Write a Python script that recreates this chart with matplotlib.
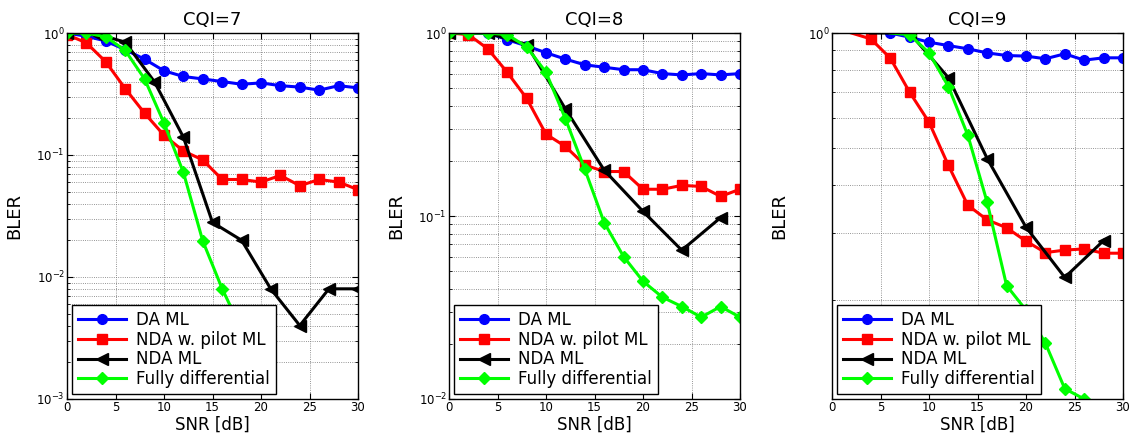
import numpy as np
import matplotlib
matplotlib.use('Agg')
import matplotlib.pyplot as plt
from matplotlib.ticker import LogLocator, NullFormatter

### data (BLER vs SNR in dB)
labels = ['DA ML', 'NDA w. pilot ML', 'NDA ML', 'Fully differential']
titles = ['CQI=7', 'CQI=8', 'CQI=9']

# CQI=7
snr7_2 = np.arange(0, 31, 2)
snr7_3 = np.arange(0, 31, 3)
snr7_fd = np.arange(0, 21, 2)
da7 = [1.0, 0.94, 0.86, 0.73, 0.61, 0.49, 0.44, 0.42, 0.40, 0.38, 0.39, 0.37, 0.36, 0.34, 0.37, 0.355]
pilot7 = [0.97, 0.83, 0.58, 0.35, 0.22, 0.145, 0.108, 0.091, 0.063, 0.063, 0.06, 0.068, 0.056, 0.063, 0.06, 0.052]
nda7 = [1.0, 0.99, 0.84, 0.40, 0.14, 0.028, 0.020, 0.008, 0.004, 0.008, 0.008]
fd7 = [1.0, 1.0, 0.93, 0.72, 0.42, 0.183, 0.072, 0.0197, 0.008, 0.0037, 0.0015]

# CQI=8
snr8_2 = np.arange(0, 31, 2)
snr8_4 = np.arange(0, 29, 4)
da8 = [1.0, 1.0, 1.0, 0.92, 0.85, 0.78, 0.72, 0.67, 0.65, 0.63, 0.63, 0.60, 0.59, 0.60, 0.59, 0.60]
pilot8 = [1.0, 0.98, 0.82, 0.61, 0.44, 0.28, 0.24, 0.19, 0.175, 0.175, 0.14, 0.14, 0.147, 0.145, 0.128, 0.14]
nda8 = [1.0, 1.0, 0.865, 0.385, 0.178, 0.106, 0.065, 0.098]
fd8 = [1.0, 1.0, 1.0, 0.98, 0.84, 0.61, 0.34, 0.18, 0.092, 0.060, 0.044, 0.036, 0.032, 0.028, 0.032, 0.028]

# CQI=9
snr9_da = np.arange(6, 31, 2)
snr9_pilot = np.arange(2, 31, 2)
snr9_nda = np.arange(4, 29, 4)
snr9_fd = np.arange(6, 27, 2)
da9 = [1.0, 0.975, 0.946, 0.927, 0.909, 0.887, 0.873, 0.87, 0.856, 0.882, 0.849, 0.861, 0.861]
pilot9 = [1.0, 0.965, 0.86, 0.70, 0.584, 0.45, 0.354, 0.324, 0.309, 0.285, 0.266, 0.27, 0.272, 0.265, 0.265]
nda9 = [1.0, 1.0, 0.764, 0.469, 0.31, 0.229, 0.286]
fd9 = [1.0, 0.99, 0.887, 0.724, 0.54, 0.36, 0.218, 0.188, 0.154, 0.117, 0.11]

ylims = [(1e-3, 1), (1e-2, 1), (0.11, 1)]

panels = [
    [(snr7_2, da7), (snr7_2, pilot7), (snr7_3, nda7), (snr7_fd, fd7)],
    [(snr8_2, da8), (snr8_2, pilot8), (snr8_4, nda8), (snr8_2, fd8)],
    [(snr9_da, da9), (snr9_pilot, pilot9), (snr9_nda, nda9), (snr9_fd, fd9)],
]
# first point of some CQI=9 curves sits on the top border without a marker
first_marker = [[0, 0, 0, 0], [0, 0, 0, 0], [0, 1, 1, 1]]

styles = [
    dict(color='#0000ff', marker='o', markersize=7),
    dict(color='#ff0000', marker='s', markersize=6.5),
    dict(color='black', marker='<', markersize=8),
    dict(color='#00ff00', marker='D', markersize=6),
]

fig = plt.figure(figsize=(11.35, 4.37), dpi=100)
lefts = [67, 449, 832]
for i in range(3):
    ax = fig.add_axes([lefts[i] / 1135, 38 / 437, 291 / 1135, 366 / 437])
    for j, (x, y) in enumerate(panels[i]):
        ax.plot(x, y, lw=2.2, label=labels[j], markevery=slice(first_marker[i][j], None), **styles[j])
    ax.set_yscale('log')
    ax.set_xlim(0, 30)
    ax.set_ylim(*ylims[i])
    ax.set_xticks([0, 5, 10, 15, 20, 25, 30])
    ax.yaxis.set_major_locator(LogLocator(base=10, numticks=10))
    ax.yaxis.set_minor_locator(LogLocator(base=10, subs=np.arange(2, 10), numticks=20))
    ax.yaxis.set_minor_formatter(NullFormatter())
    ax.grid(True, which='major', ls=':', color='0.45', lw=0.6)
    ax.grid(True, which='minor', axis='y', ls=':', color='0.45', lw=0.6)
    ax.tick_params(which='both', direction='in', top=True, right=True, labelsize=8.5, pad=1.5)
    ax.tick_params(which='major', length=4)
    ax.tick_params(which='minor', length=2)
    for s in ax.spines.values():
        s.set_linewidth(1.0)
    ax.set_title(titles[i], fontsize=13, pad=6)
    ax.set_xlabel('SNR [dB]', fontsize=12)
    ax.xaxis.set_label_coords(0.5, -0.047)
    ax.set_ylabel('BLER', fontsize=13)
    ax.yaxis.set_label_coords(-0.15, 0.5)
    leg = ax.legend(loc='lower left', fontsize=12, handlelength=2.9, handletextpad=0.6,
                    labelspacing=0.1, borderpad=0.35, borderaxespad=0.3, fancybox=False,
                    framealpha=1, edgecolor='black')
    leg.get_frame().set_linewidth(1.0)

plt.savefig('out.png', dpi=100)
